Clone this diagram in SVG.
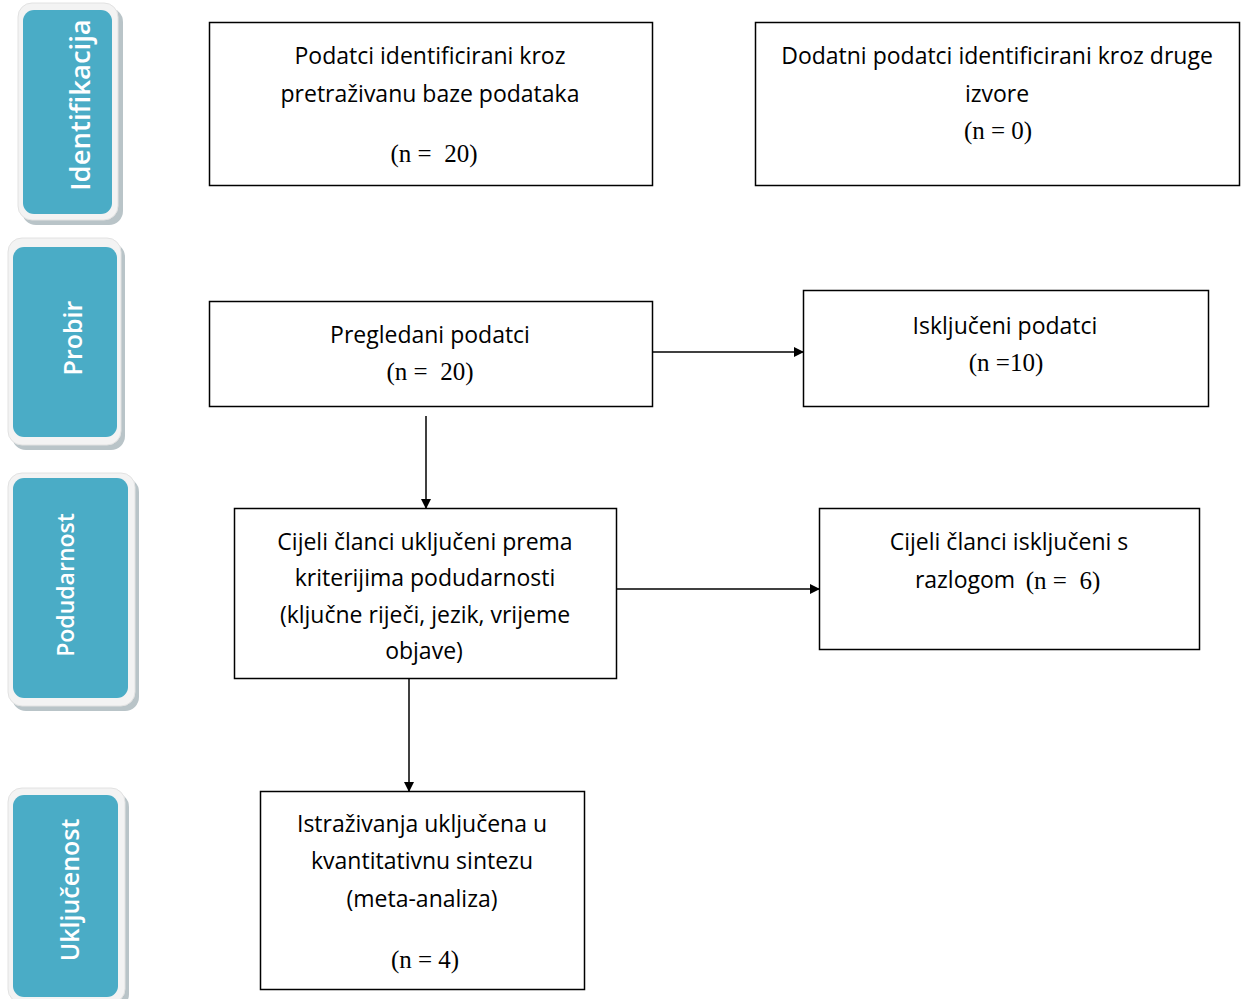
<svg xmlns="http://www.w3.org/2000/svg" width="1247" height="999" viewBox="0 0 1247 999">
<defs>
<style>
.box{fill:#fff;stroke:#000;stroke-width:1.5}
.t{font-family:"Open Sans",Lato,sans-serif;font-size:23px;fill:#000;text-anchor:middle;font-variant-ligatures:none}
.m{font-family:"Liberation Serif","DejaVu Serif",serif;font-size:25px;fill:#000;text-anchor:middle;white-space:pre}
.lab{font-family:"Open Sans",Lato,sans-serif;font-weight:600;font-size:25px;fill:#fff;text-anchor:middle;font-variant-ligatures:none}
.sh{fill:#b9c4c8}
.outer{fill:#f3f3f3;stroke:#e2e2e2;stroke-width:1}
.inner{fill:#4aacc6}
.c{stroke:#000;stroke-width:1.5;fill:none;marker-end:url(#ah)}
</style>
<marker id="ah" markerWidth="10" markerHeight="10" refX="9" refY="5" orient="auto" markerUnits="userSpaceOnUse">
<path d="M0,0 L10,5 L0,10 Z" fill="#000"/>
</marker>
</defs>
<rect width="1247" height="999" fill="#fff"/>

<g id="lab-identifikacija">
<rect class="sh" x="22" y="8" width="101" height="217" rx="14"/>
<rect class="outer" x="18" y="3" width="100" height="217" rx="14"/>
<rect class="inner" x="23" y="10" width="89" height="204" rx="11"/>
<text class="lab" style="font-size:27.5px" transform="translate(90,105) rotate(-90)">Identifikacija</text>
</g>
<g id="lab-probir">
<rect class="sh" x="12" y="243" width="113" height="207" rx="14"/>
<rect class="outer" x="8" y="238" width="113" height="207" rx="14"/>
<rect class="inner" x="13" y="247" width="104" height="190" rx="11"/>
<text class="lab" transform="translate(82,338) rotate(-90)">Probir</text>
</g>
<g id="lab-podudarnost">
<rect class="sh" x="12" y="478" width="127" height="233" rx="14"/>
<rect class="outer" x="8" y="473" width="127" height="233" rx="14"/>
<rect class="inner" x="13" y="478" width="115" height="220" rx="11"/>
<text class="lab" style="font-size:23px" transform="translate(74,585) rotate(-90)">Podudarnost</text>
</g>
<g id="lab-ukljucenost">
<rect class="sh" x="12" y="793" width="117" height="215" rx="14"/>
<rect class="outer" x="8" y="788" width="117" height="215" rx="14"/>
<rect class="inner" x="13" y="795" width="105" height="202" rx="11"/>
<text class="lab" transform="translate(79,890) rotate(-90)">Uključenost</text>
</g>

<g id="n1">
<rect class="box" x="209.5" y="22.5" width="443" height="163"/>
<text class="t" x="430" y="64">Podatci identificirani kroz</text>
<text class="t" x="430" y="102">pretraživanu baze podataka</text>
<text class="m" x="434" y="162" xml:space="preserve">(n =  20)</text>
</g>
<g id="n2">
<rect class="box" x="755.5" y="22.5" width="484" height="163"/>
<text class="t" x="997" y="64">Dodatni podatci identificirani kroz druge</text>
<text class="t" x="997" y="102">izvore</text>
<text class="m" x="998" y="139">(n = 0)</text>
</g>
<g id="n3">
<rect class="box" x="209.5" y="301.5" width="443" height="105"/>
<text class="t" x="430" y="343">Pregledani podatci</text>
<text class="m" x="430" y="380" xml:space="preserve">(n =  20)</text>
</g>
<g id="n4">
<rect class="box" x="803.5" y="290.5" width="405" height="116"/>
<text class="t" x="1005" y="334">Isključeni podatci</text>
<text class="m" x="1006" y="371">(n =10)</text>
</g>
<g id="n5">
<rect class="box" x="234.5" y="508.5" width="382" height="170"/>
<text class="t" x="425" y="550">Cijeli članci uključeni prema</text>
<text class="t" x="425" y="586">kriterijima podudarnosti</text>
<text class="t" x="425" y="623">(ključne riječi, jezik, vrijeme</text>
<text class="t" x="424" y="659">objave)</text>
</g>
<g id="n6">
<rect class="box" x="819.5" y="508.5" width="380" height="141"/>
<text class="t" x="1009" y="550">Cijeli članci isključeni s</text>
<text class="t" x="965" y="588">razlogom</text>
<text class="m" x="1063" y="589" xml:space="preserve">(n =  6)</text>
</g>
<g id="n7">
<rect class="box" x="260.5" y="791.5" width="324" height="198"/>
<text class="t" x="422" y="832">Istraživanja uključena u</text>
<text class="t" x="422" y="869">kvantitativnu sintezu</text>
<text class="t" x="422" y="907">(meta-analiza)</text>
<text class="m" x="425" y="968">(n = 4)</text>
</g>

<g id="connectors">
<line class="c" x1="652" y1="352" x2="803" y2="352"/>
<line class="c" x1="426" y1="416" x2="426" y2="508"/>
<line class="c" x1="616" y1="589" x2="819" y2="589"/>
<line class="c" x1="409" y1="679" x2="409" y2="791"/>
</g>
</svg>
